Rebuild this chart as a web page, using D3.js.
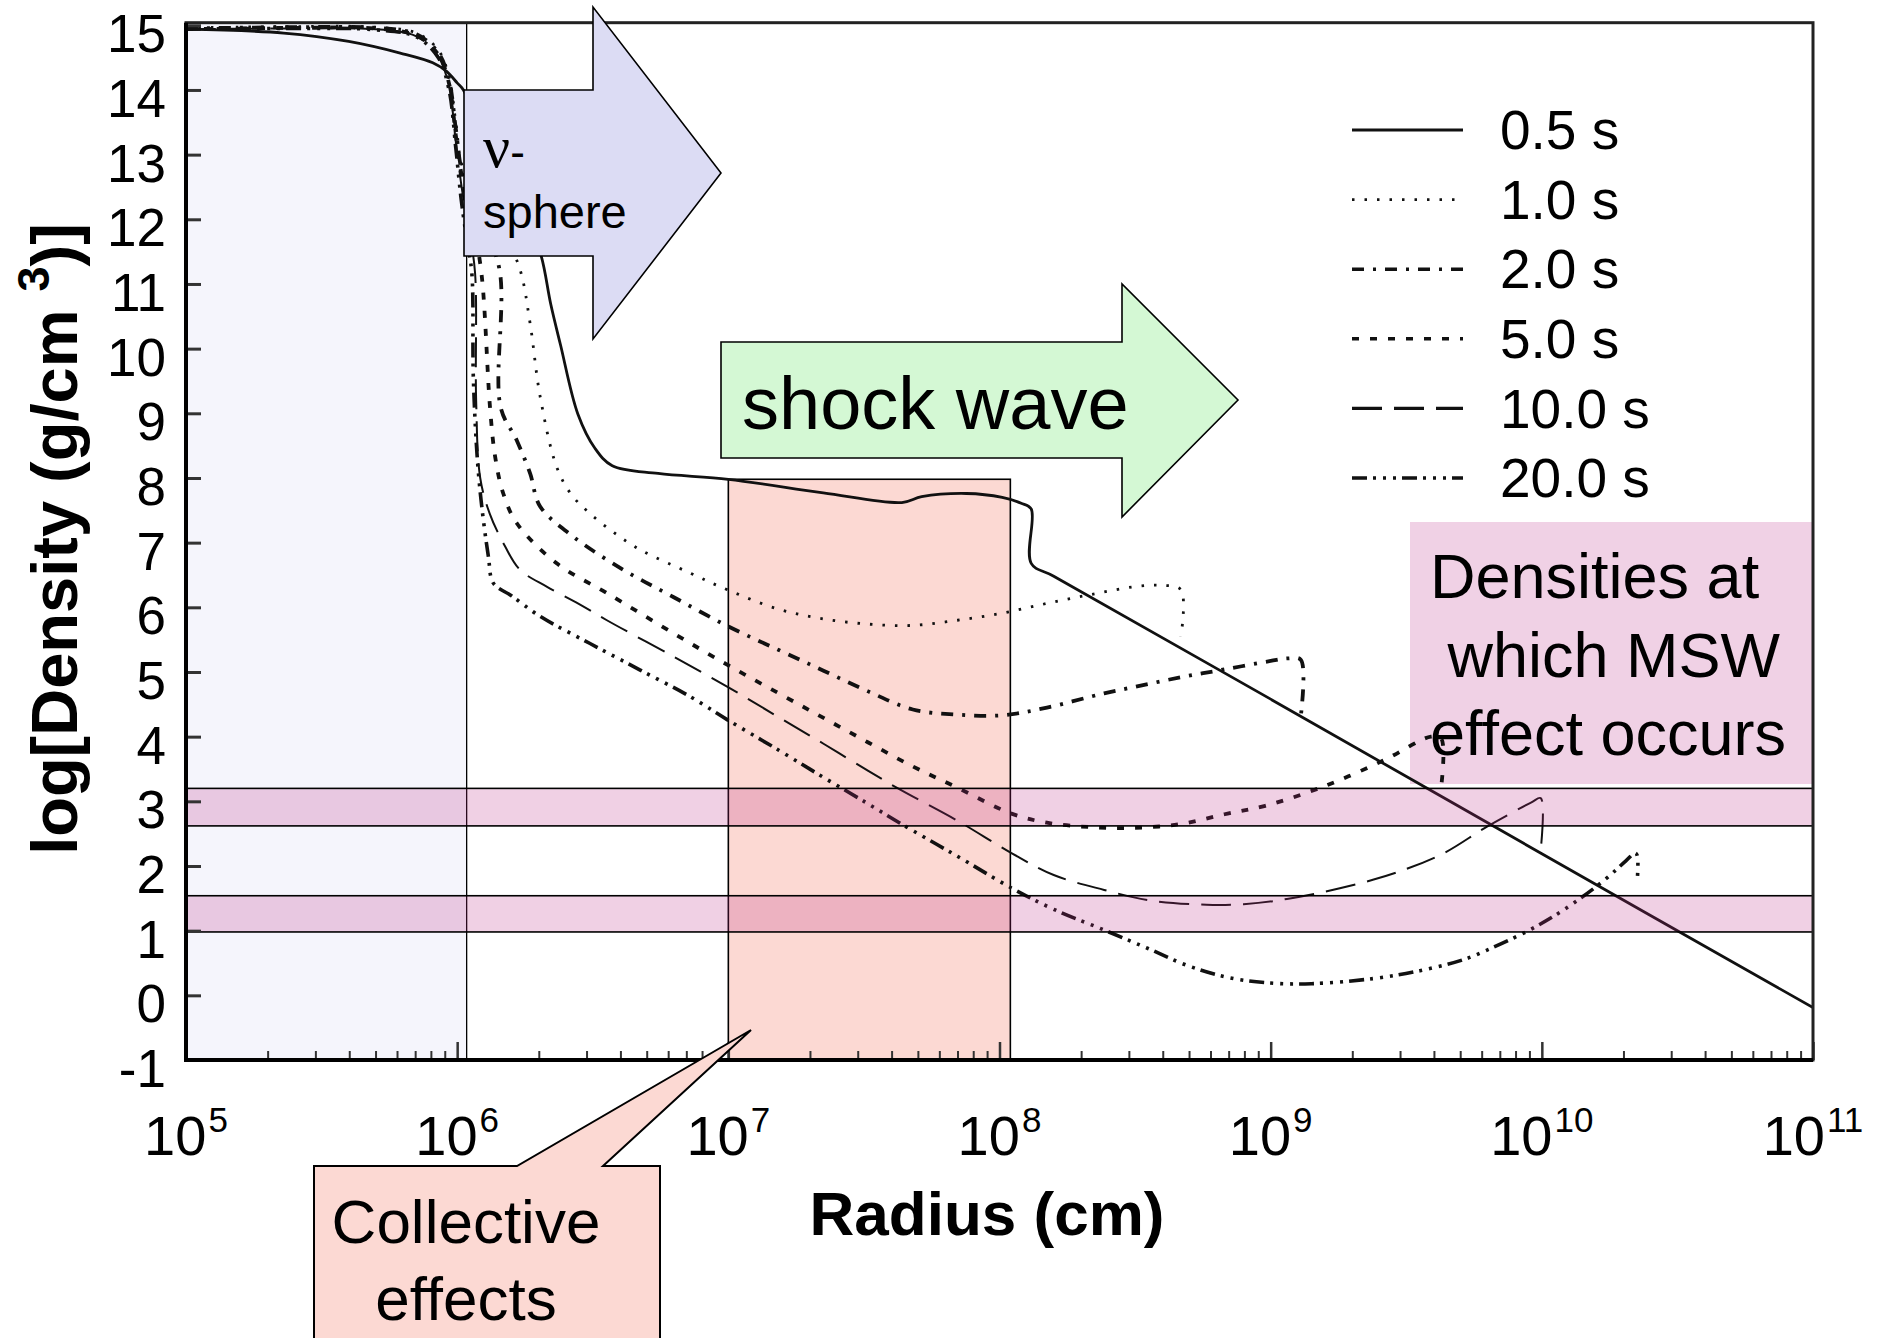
<!DOCTYPE html>
<html>
<head>
<meta charset="utf-8">
<script src="https://cdn.jsdelivr.net/npm/d3@7"></script>
<style>
  html, body { margin: 0; padding: 0; background: #fff; }
  svg { display: block; }
</style>
</head>
<body>
<svg id="chart" width="1885" height="1338"></svg>
<script>
// legend labels, same order as the profiles below
const seriesLabels = ["0.5 s", "1.0 s", "2.0 s", "5.0 s", "10.0 s", "20.0 s"];

// density profiles: [log10 radius (cm), log10 density (g/cm^3)]
const profile05 = [[5.0, 14.94], [5.36, 14.88], [5.6, 14.75], [5.79, 14.57], [5.91, 14.42], [5.96, 14.29],
  [6.0, 14.11], [6.023, 14.0], [6.08, 13.4], [6.16, 12.7], [6.25, 12.1], [6.31, 11.43], [6.345, 10.69],
  [6.381, 10.06], [6.445, 8.99], [6.508, 8.46], [6.572, 8.19], [6.741, 8.07], [7.0, 7.98], [7.35, 7.77],
  [7.64, 7.62], [7.713, 7.71], [7.878, 7.76], [8.01, 7.7], [8.08, 7.61], [8.117, 7.52], [8.117, 6.68],
  [8.2, 6.48], [9.0, 4.58], [10.0, 2.19], [11.0, -0.19]];

const profile10 = [[5.0, 14.96], [5.4, 14.98], [5.7, 14.97], [5.85, 14.88], [5.93, 14.62], [5.97, 14.2],
  [5.995, 13.5], [6.02, 12.8], [6.1, 12.1], [6.18, 11.7], [6.232, 11.22], [6.269, 10.39], [6.306, 9.26],
  [6.367, 8.17], [6.42, 7.75], [6.49, 7.45], [6.58, 7.15], [6.675, 6.89], [6.859, 6.53], [6.997, 6.27],
  [7.186, 5.97], [7.351, 5.82], [7.516, 5.74], [7.68, 5.72], [7.845, 5.8], [8.01, 5.91], [8.175, 6.06],
  [8.34, 6.2], [8.5, 6.32], [8.6, 6.34], [8.669, 6.27], [8.669, 5.55]];

const profile20 = [[5.0, 14.95], [5.4, 14.97], [5.7, 14.96], [5.85, 14.86], [5.93, 14.58], [5.97, 14.15],
  [5.995, 13.4], [6.02, 12.7], [6.09, 12.0], [6.157, 11.2], [6.16, 9.1], [6.22, 8.58], [6.269, 8.07],
  [6.306, 7.56], [6.429, 7.09], [6.613, 6.58], [6.797, 6.16], [6.997, 5.71], [7.186, 5.34], [7.351, 5.02],
  [7.516, 4.7], [7.68, 4.42], [7.845, 4.34], [8.01, 4.33], [8.175, 4.45], [8.386, 4.67], [8.5, 4.77],
  [8.67, 4.92], [8.83, 5.04], [9.0, 5.17], [9.064, 5.21], [9.111, 5.19], [9.111, 4.31]];

const profile50 = [[5.0, 14.94], [5.4, 14.96], [5.7, 14.95], [5.85, 14.84], [5.93, 14.55], [5.97, 14.1],
  [5.995, 13.3], [6.02, 12.6], [6.06, 11.9], [6.09, 11.15], [6.121, 9.1], [6.14, 8.33], [6.17, 7.76],
  [6.22, 7.3], [6.367, 6.68], [6.552, 6.22], [6.797, 5.6], [6.997, 5.11], [7.186, 4.67], [7.351, 4.29],
  [7.516, 3.91], [7.68, 3.54], [7.845, 3.21], [8.044, 2.81], [8.175, 2.67], [8.34, 2.6], [8.5, 2.59],
  [8.67, 2.65], [8.83, 2.8], [8.98, 2.93], [9.196, 3.23], [9.415, 3.63], [9.591, 4.0], [9.629, 3.97],
  [9.629, 3.23]];

const profile100 = [[5.0, 14.94], [5.4, 14.95], [5.7, 14.94], [5.85, 14.83], [5.93, 14.52], [5.97, 14.05],
  [5.995, 13.2], [6.02, 12.4], [6.045, 11.8], [6.066, 11.17], [6.07, 9.2], [6.085, 8.0], [6.12, 7.45],
  [6.177, 6.94], [6.232, 6.58], [6.33, 6.32], [6.45, 6.05], [6.552, 5.8], [6.797, 5.24], [6.997, 4.77],
  [7.186, 4.3], [7.351, 3.89], [7.516, 3.47], [7.634, 3.18], [7.845, 2.7], [8.044, 2.2], [8.2, 1.86],
  [8.386, 1.63], [8.55, 1.47], [8.763, 1.4], [8.9, 1.41], [9.06, 1.49], [9.38, 1.79], [9.625, 2.17],
  [9.798, 2.61], [9.96, 2.98], [9.996, 3.05], [9.996, 2.25]];

const profile200 = [[5.0, 14.94], [5.4, 14.95], [5.7, 14.93], [5.85, 14.82], [5.93, 14.5], [5.97, 14.0],
  [5.995, 13.1], [6.015, 12.3], [6.035, 11.7], [6.054, 11.17], [6.06, 9.5], [6.08, 8.0], [6.115, 6.79],
  [6.134, 6.37], [6.2, 6.18], [6.306, 5.86], [6.49, 5.44], [6.675, 5.03], [6.859, 4.62], [6.997, 4.26],
  [7.186, 3.79], [7.351, 3.37], [7.516, 2.96], [7.634, 2.66], [7.845, 2.15], [8.044, 1.66], [8.2, 1.33],
  [8.386, 1.01], [8.55, 0.72], [8.7, 0.45], [8.85, 0.27], [9.0, 0.19], [9.15, 0.18], [9.38, 0.26],
  [9.55, 0.38], [9.71, 0.55], [9.798, 0.7], [9.95, 1.0], [10.08, 1.32], [10.23, 1.78], [10.31, 2.08],
  [10.344, 2.2], [10.352, 2.16], [10.352, 1.78]];

const xDecades = [5, 6, 7, 8, 9, 10, 11];
const yTickValues = [-1, 0, 1, 2, 3, 4, 5, 6, 7, 8, 9, 10, 11, 12, 13, 14, 15];

// shaded regions (log10 radius / log10 density)
const mswBands = [[0.98, 1.54], [2.62, 3.2]];
const nuSphereEdge = 6.035;
const collectiveRange = [7.0, 8.04];
const collectiveTop = 7.98;

const mswLines = ["Densities at", " which MSW", "effect occurs"];
const collectiveLines = ["Collective", "effects"];

const FONT = '"Liberation Sans", Arial, Helvetica, sans-serif';
const plot = { left: 186, right: 1813, top: 22.7, bottom: 1060 };

const svg = d3.select("#chart");
svg.append("rect").attr("width", 1885).attr("height", 1338).attr("fill", "#fff");

const x = d3.scaleLog().domain([1e5, 1e11]).range([plot.left, plot.right]);
const y = d3.scaleLinear().domain([-1, 15.04]).range([plot.bottom, plot.top]);
const px = lr => x(Math.pow(10, lr));

// line styles for each profile
const styles = [
  { dash: null, width: 2.8, legendWidth: 3.2 },
  { dash: "2.5,10", width: 2.8, legendWidth: 2.6 },
  { dash: "12,9,3,9", width: 3.8, legendWidth: 3.6 },
  { dash: "7,11", width: 3.8, legendWidth: 3.6 },
  { dash: "30,12", width: 2, legendWidth: 3.4 },
  { dash: "15,6,3,7,3,7,3,6", width: 3.6, legendWidth: 3.4 }
];

svg.append("clipPath").attr("id", "plotClip")
  .append("rect")
  .attr("x", plot.left).attr("y", plot.top)
  .attr("width", plot.right - plot.left).attr("height", plot.bottom - plot.top);

// neutrino-sphere region
svg.append("rect")
  .attr("x", px(5)).attr("y", plot.top)
  .attr("width", px(nuSphereEdge) - px(5))
  .attr("height", plot.bottom - plot.top)
  .attr("fill", "#f5f5fc")
  .attr("stroke", "#000").attr("stroke-width", 1.3);

// collective effects region
svg.append("rect")
  .attr("x", px(collectiveRange[0])).attr("y", y(collectiveTop))
  .attr("width", px(collectiveRange[1]) - px(collectiveRange[0]))
  .attr("height", plot.bottom - y(collectiveTop))
  .attr("fill", "#fcd9d3")
  .attr("stroke", "#000").attr("stroke-width", 1.6);

// MSW text box (behind the curves)
svg.append("rect")
  .attr("x", 1410).attr("y", 522)
  .attr("width", plot.right - 1410).attr("height", 262)
  .attr("fill", "#f0d1e5");

const line = d3.line()
  .x(d => px(d[0]))
  .y(d => y(d[1]))
  .curve(d3.curveCatmullRom.alpha(0.5));

const profiles = [profile05, profile10, profile20, profile50, profile100, profile200];

svg.append("g").attr("clip-path", "url(#plotClip)")
  .selectAll("path")
  .data(profiles)
  .enter().append("path")
  .attr("d", d => line(d))
  .attr("fill", "none")
  .attr("stroke", "#111")
  .attr("stroke-width", (d, i) => styles[i].width)
  .attr("stroke-dasharray", (d, i) => styles[i].dash)
  .attr("stroke-linejoin", "round");

// MSW resonance density bands, drawn over the curves
svg.selectAll(".band")
  .data(mswBands)
  .enter().append("rect")
  .attr("class", "band")
  .attr("x", plot.left)
  .attr("width", plot.right - plot.left)
  .attr("y", d => y(d[1]))
  .attr("height", d => y(d[0]) - y(d[1]))
  .attr("fill", "rgba(187, 41, 132, 0.22)")
  .attr("stroke", "#000").attr("stroke-width", 1.6);

// axes
const yAxis = svg.append("g")
  .attr("transform", `translate(${plot.left},0)`)
  .call(d3.axisLeft(y).tickValues(yTickValues).tickSizeInner(-15).tickSizeOuter(0)
    .tickPadding(20).tickFormat(d => String(d)));
yAxis.select(".domain").remove();
yAxis.selectAll(".tick line").attr("stroke", "#333").attr("stroke-width", 3);
yAxis.selectAll(".tick text")
  .attr("font-family", FONT).attr("font-size", 53).attr("fill", "#000").attr("dy", "0.5em");

const minorTicks = [];
xDecades.slice(0, -1).forEach(k => {
  for (let m = 2; m <= 9; m++) minorTicks.push(m * Math.pow(10, k));
});

const xMinor = svg.append("g")
  .attr("transform", `translate(0,${plot.bottom})`)
  .call(d3.axisBottom(x).tickValues(minorTicks).tickSizeInner(-9).tickSizeOuter(0).tickFormat(() => ""));
xMinor.select(".domain").remove();
xMinor.selectAll(".tick line").attr("stroke", "#333").attr("stroke-width", 2);

const xMajor = svg.append("g")
  .attr("transform", `translate(0,${plot.bottom})`)
  .call(d3.axisBottom(x).tickValues(xDecades.map(k => Math.pow(10, k)))
    .tickSizeInner(-18).tickSizeOuter(0).tickFormat(() => ""));
xMajor.select(".domain").remove();
xMajor.selectAll(".tick line").attr("stroke", "#333").attr("stroke-width", 2.5);

const xLabels = svg.append("g").attr("font-family", FONT).attr("fill", "#000");
xDecades.forEach(k => {
  const t = xLabels.append("text")
    .attr("x", px(k)).attr("y", 1155)
    .attr("text-anchor", "middle");
  t.append("tspan").attr("font-size", 56).text("10");
  t.append("tspan").attr("font-size", 35).attr("dy", -23).attr("dx", 2).text(String(k));
});

// frame
svg.append("rect")
  .attr("x", plot.left).attr("y", plot.top)
  .attr("width", plot.right - plot.left).attr("height", plot.bottom - plot.top)
  .attr("fill", "none").attr("stroke", "#222").attr("stroke-width", 3);
svg.append("line")
  .attr("x1", plot.left).attr("x2", plot.left).attr("y1", plot.top).attr("y2", plot.bottom + 2)
  .attr("stroke", "#000").attr("stroke-width", 4);
svg.append("line")
  .attr("x1", plot.left - 2).attr("x2", plot.right).attr("y1", plot.bottom).attr("y2", plot.bottom)
  .attr("stroke", "#000").attr("stroke-width", 4);

// axis titles
svg.append("text")
  .attr("x", 987).attr("y", 1235)
  .attr("text-anchor", "middle")
  .attr("font-family", FONT).attr("font-weight", "bold").attr("font-size", 62)
  .text("Radius (cm)");

const yTitle = svg.append("text")
  .attr("transform", "translate(77,539) rotate(-90)")
  .attr("text-anchor", "middle")
  .attr("font-family", FONT).attr("font-weight", "bold").attr("font-size", 65);
yTitle.append("tspan").text("log[Density (g/cm ");
yTitle.append("tspan").attr("font-size", 45).attr("dy", -28).text("3");
yTitle.append("tspan").attr("dy", 28).text(")]");

// neutrino-sphere arrow
svg.append("path")
  .attr("d", "M464,90 L593,90 L593,7 L721,173 L593,339 L593,256 L464,256 Z")
  .attr("fill", "#dcdcf4").attr("stroke", "#000").attr("stroke-width", 1.6);
const nuText = svg.append("text").attr("x", 483).attr("y", 167);
nuText.append("tspan").attr("font-family", '"Liberation Serif", "Times New Roman", serif')
  .attr("font-size", 60).text("\u03bd");
nuText.append("tspan").attr("font-family", FONT).attr("font-size", 44).text("-");
svg.append("text")
  .attr("x", 483).attr("y", 228)
  .attr("font-family", FONT).attr("font-size", 47)
  .text("sphere");

// shock wave arrow
svg.append("path")
  .attr("d", "M721,342 L1122,342 L1122,284 L1238,400 L1122,517 L1122,458 L721,458 Z")
  .attr("fill", "#d4f8d4").attr("stroke", "#000").attr("stroke-width", 1.6);
svg.append("text")
  .attr("x", 742).attr("y", 429)
  .attr("font-family", FONT).attr("font-size", 74)
  .text("shock wave");

// MSW label
svg.append("g")
  .selectAll("text")
  .data(mswLines)
  .enter().append("text")
  .attr("x", 1430)
  .attr("y", (d, i) => 598 + i * 78.5)
  .attr("xml:space", "preserve")
  .style("white-space", "pre")
  .attr("font-family", FONT).attr("font-size", 63)
  .text(d => d);

// collective effects callout
svg.append("path")
  .attr("d", "M314,1345 L314,1166 L517,1166 L751,1030 L603,1166 L660,1166 L660,1345")
  .attr("fill", "#fcd9d3").attr("stroke", "#000").attr("stroke-width", 2);
svg.append("g")
  .selectAll("text")
  .data(collectiveLines)
  .enter().append("text")
  .attr("x", 466)
  .attr("y", (d, i) => 1243 + i * 77)
  .attr("text-anchor", "middle")
  .attr("font-family", FONT).attr("font-size", 62)
  .text(d => d);

// legend
const legend = svg.append("g");
seriesLabels.forEach((label, i) => {
  const yy = 130 + i * 69.6;
  legend.append("line")
    .attr("x1", 1352).attr("x2", 1463).attr("y1", yy).attr("y2", yy)
    .attr("stroke", "#111")
    .attr("stroke-width", styles[i].legendWidth)
    .attr("stroke-dasharray", styles[i].dash);
  legend.append("text")
    .attr("x", 1500).attr("y", yy).attr("dy", "0.35em")
    .attr("font-family", FONT).attr("font-size", 55)
    .text(label);
});
</script>
</body>
</html>
